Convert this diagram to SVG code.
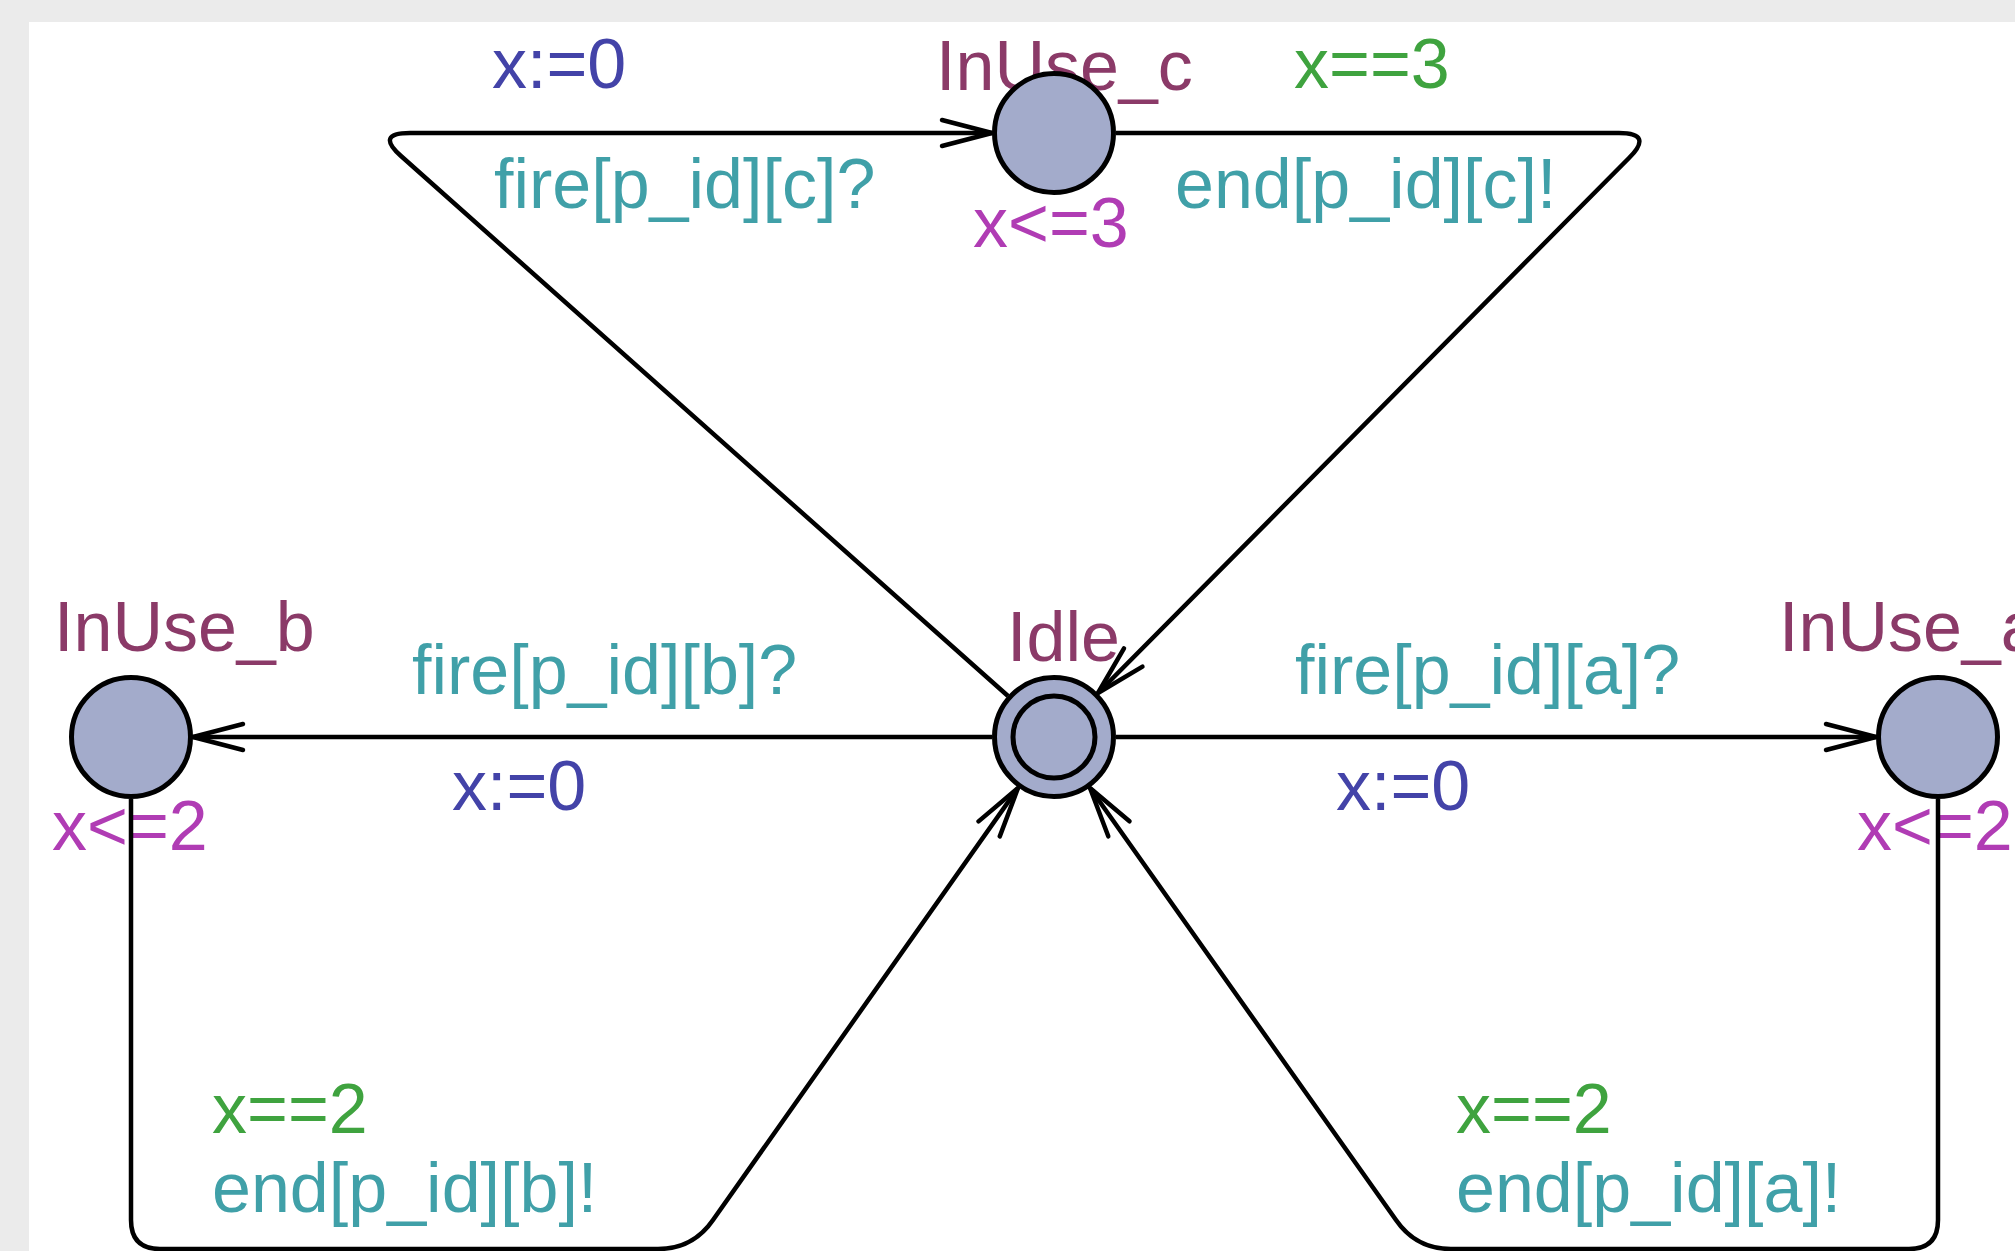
<svg xmlns="http://www.w3.org/2000/svg" width="2015" height="1251" viewBox="0 0 2015 1251">
<defs>
<style>
text{font-family:"Liberation Sans",Arial,sans-serif;font-size:70px}
.name{fill:#8b3a68}
.inv{fill:#b03cb4}
.guard{fill:#3fa33f}
.sync{fill:#40a0a8}
.assign{fill:#4343a8}
.loc{fill:#a3abcb;stroke:#000;stroke-width:5}
.edge{fill:none;stroke:#000;stroke-width:4.5;stroke-linejoin:round;marker-end:url(#arr)}
</style>
<marker id="arr" markerUnits="userSpaceOnUse" viewBox="-56 -18 60 36" refX="0" refY="0" markerWidth="60" markerHeight="36" orient="auto">
<path d="M-50,-13 L0,0 L-50,13" fill="none" stroke="#000" stroke-width="4.5" stroke-linecap="round" stroke-linejoin="round"/>
</marker>
</defs>
<rect x="0" y="0" width="2015" height="1251" fill="#ffffff"/>
<rect x="0" y="0" width="2015" height="22" fill="#ebebeb"/>
<rect x="0" y="22" width="29" height="1229" fill="#ebebeb"/>

<g id="InUse_c">
<text class="name" x="936" y="90">InUse_c</text>
<text class="inv" x="973" y="247">x&lt;=3</text>
<circle class="loc" cx="1054" cy="133" r="59.5"/>
</g>
<g id="Idle">
<text class="name" x="1007" y="661">Idle</text>
<circle class="loc" cx="1054" cy="737" r="59.5"/>
<circle cx="1054" cy="737" r="41" fill="none" stroke="#000" stroke-width="5"/>
</g>
<g id="InUse_b">
<text class="name" x="54" y="651">InUse_b</text>
<text class="inv" x="52" y="850">x&lt;=2</text>
<circle class="loc" cx="131" cy="737" r="59.5"/>
</g>
<g id="InUse_a">
<text class="name" x="1779" y="651">InUse_a</text>
<text class="inv" x="1857" y="850">x&lt;=2</text>
<circle class="loc" cx="1938" cy="737" r="59.5"/>
</g>

<g id="connectors">
<g id="e_idle_c">
<path class="edge" d="M1008,696 L401,156 Q375,133 410,133 L992,133"/>
<text class="assign" x="492" y="88">x:=0</text>
<text class="sync" x="494" y="208">fire[p_id][c]?</text>
</g>
<g id="e_c_idle">
<path class="edge" d="M1116,133 L1619,133 Q1654,133 1629,158 L1098,693"/>
<text class="guard" x="1294" y="88">x==3</text>
<text class="sync" x="1175" y="208">end[p_id][c]!</text>
</g>
<g id="e_idle_b">
<path class="edge" d="M992,737 L193,737"/>
<text class="sync" x="412" y="694">fire[p_id][b]?</text>
<text class="assign" x="452" y="810">x:=0</text>
</g>
<g id="e_idle_a">
<path class="edge" d="M1116,737 L1876,737"/>
<text class="sync" x="1295" y="694">fire[p_id][a]?</text>
<text class="assign" x="1336" y="810">x:=0</text>
</g>
<g id="e_b_idle">
<path class="edge" d="M131,799 L131,1220 Q131,1249 160,1249 L658,1249 Q693,1249 713,1220 L1018,788"/>
<text class="guard" x="212" y="1133">x==2</text>
<text class="sync" x="212" y="1212">end[p_id][b]!</text>
</g>
<g id="e_a_idle">
<path class="edge" d="M1938,799 L1938,1220 Q1938,1249 1909,1249 L1451,1249 Q1416,1249 1396,1220 L1090,788"/>
<text class="guard" x="1456" y="1133">x==2</text>
<text class="sync" x="1456" y="1212">end[p_id][a]!</text>
</g>
</g>
</svg>
